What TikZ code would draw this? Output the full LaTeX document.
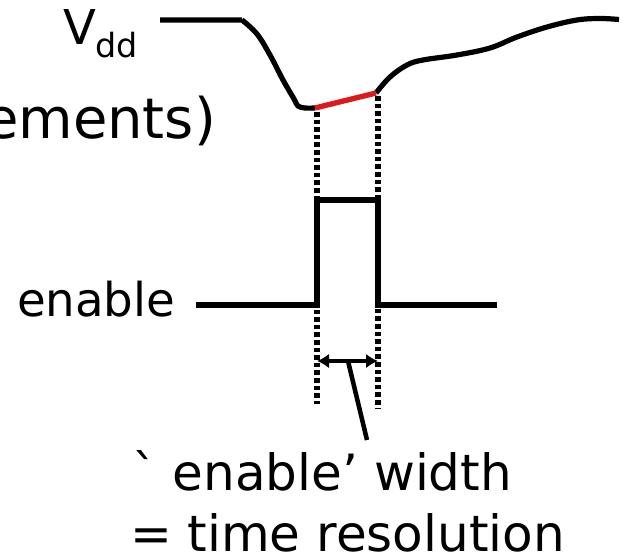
\documentclass[tikz,border=0pt]{standalone}
\usepackage{fontspec}
\setmainfont{DejaVu Sans}
\newfontfamily\plainquotes{DejaVu Sans}[Ligatures=TeXOff]
\usetikzlibrary{arrows.meta}
\tikzset{bigtip/.tip={Latex[length=9pt,width=11pt]}}
\begin{document}
\begin{tikzpicture}[x=0.75pt,y=-0.75pt,
  wave/.style={line width=3.9pt,line join=miter},
  guide/.style={line width=3.8pt,dash pattern=on 3.4pt off 2.3pt},
  label/.style={inner sep=0pt,outer sep=0pt,text=black},
  hilite/.style={line width=4pt,color=red!85!black!90!white}]
\useasboundingbox (0,0) rectangle (624,556);

% labels
\node[label,anchor=base west,font=\fontsize{36}{40}\selectfont] (vdd) at (63,45) {V};
\node[label,anchor=base west,font=\fontsize{25}{28}\selectfont] (vddsub) at (95,58) {dd};
\node[label,anchor=base east,font=\fontsize{42}{46}\selectfont] (meas) at (216,138) {ements)};
\node[label,anchor=base west,font=\fontsize{35}{40}\selectfont] (en) at (17,316) {enable};
\node[label,anchor=base west,font=\plainquotes\fontsize{37.5}{42}\selectfont] (w1) at (132,490) {` enable’ width};
\node[label,anchor=base west,font=\fontsize{37.5}{42}\selectfont] (w2) at (130,551) {= time resolution};

% supply waveform
\coordinate (dipL) at (315,108);
\coordinate (dipR) at (376,93);
\draw[wave] (160,20) -- (242,20)
  plot[smooth,tension=0.6] coordinates {(242,20) (257,34) (270,55) (283,80) (294,99) (298,106) (305,108) (315,108)};
\draw[wave] plot[smooth,tension=0.6] coordinates {(376,93) (390,77) (407,65) (423,60) (457,55) (490,48) (517,37) (547,27) (577,20) (600,18.5) (619,19.5)};
\draw[hilite] (dipL) -- (dipR);

% enable pulse
\coordinate (riseB) at (317,305);
\coordinate (fallB) at (378,305);
\draw[wave] (196,305) -- (riseB) -- (317,200) -- (378,200) -- (fallB) -- (497,305);

% timing guides
\draw[guide] (317,112) -- (317,404);
\draw[guide] (378,96) -- (378,408);

% width marker and leader
\coordinate (aL) at (317,361);
\coordinate (aR) at (378,361);
\coordinate (lead) at (348,361);
\coordinate (leadEnd) at (367,440);
\draw[line width=2.8pt,bigtip-bigtip] (aL) -- (aR);
\draw[line width=3.4pt] (lead) -- (leadEnd);
\end{tikzpicture}
\end{document}
